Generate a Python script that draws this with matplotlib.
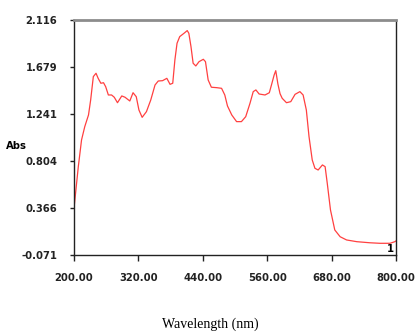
import matplotlib
matplotlib.use("Agg")
import matplotlib.pyplot as plt

# absorbance spectrum
wavelength = [200, 208, 214, 220, 227, 231, 236, 241, 245, 250, 255, 259, 264, 270,
              275, 281, 289, 295, 304, 310, 316, 321, 327, 335, 343, 351, 357, 365,
              373, 379, 384, 388, 392, 397, 405, 411, 414, 418, 422, 427, 433, 441,
              445, 450, 456, 466, 475, 481, 486, 494, 503, 512, 520, 528, 534, 539,
              545, 556, 564, 568, 573, 576, 580, 584, 588, 596, 604, 612, 621, 627,
              633, 638, 644, 649, 655, 663, 668, 672, 678, 686, 696, 708, 727, 751,
              770, 789, 798, 800]
absorbance = [0.364, 0.751, 0.999, 1.123, 1.232, 1.371, 1.589, 1.620, 1.573, 1.527,
              1.532, 1.495, 1.418, 1.418, 1.397, 1.346, 1.409, 1.397, 1.362, 1.439,
              1.402, 1.278, 1.210, 1.263, 1.371, 1.511, 1.548, 1.551, 1.573, 1.517,
              1.527, 1.744, 1.899, 1.961, 1.992, 2.017, 1.992, 1.868, 1.713, 1.688,
              1.728, 1.750, 1.728, 1.558, 1.490, 1.486, 1.480, 1.418, 1.316, 1.232,
              1.170, 1.170, 1.216, 1.341, 1.449, 1.465, 1.427, 1.418, 1.439, 1.511,
              1.604, 1.644, 1.520, 1.430, 1.387, 1.346, 1.356, 1.424, 1.449, 1.418,
              1.278, 1.030, 0.813, 0.736, 0.720, 0.767, 0.751, 0.596, 0.348, 0.162,
              0.099, 0.069, 0.053, 0.043, 0.038, 0.038, 0.053, 0.060]

x_ticks = [200, 320, 440, 560, 680, 800]
y_ticks = [-0.071, 0.366, 0.804, 1.241, 1.679, 2.116]

narrow = ['DejaVu Sans']

fig = plt.figure(figsize=(4.17, 3.32), dpi=100)
ax = fig.add_axes([0.1775, 0.2319, 0.772, 0.708])

ax.plot(wavelength, absorbance, color='#ff4040', lw=0.9)

ax.set_xlim(200, 800)
ax.set_ylim(-0.071, 2.116)
ax.set_xticks(x_ticks)
ax.set_xticklabels([f"{v:.2f}" for v in x_ticks])
ax.set_yticks(y_ticks)
ax.set_yticklabels([f"{v:.3f}" for v in y_ticks])

for lab in ax.get_xticklabels() + ax.get_yticklabels():
    lab.set_family(narrow)
    lab.set_fontweight('bold')
    lab.set_fontstretch('condensed')
    lab.set_fontsize(8)

ax.tick_params(axis='x', direction='out', length=4, width=1, pad=9, colors='#222222')
ax.tick_params(axis='y', direction='out', length=3, width=1, pad=9, colors='#222222')

ax.spines['top'].set_color('#8c8c8c')
ax.spines['top'].set_linewidth(2)
for s in ['left', 'bottom', 'right']:
    ax.spines[s].set_color('#222222')
    ax.spines[s].set_linewidth(1)

ax.text(0.992, 0.005, '1', transform=ax.transAxes, ha='right', va='bottom',
        fontsize=8, family=narrow, fontweight='bold', fontstretch='condensed')

fig.text(0.04, 0.56, 'Abs', ha='center', va='center', fontsize=8,
         family=narrow, fontweight='bold', fontstretch='condensed')
fig.text(0.505, 0.004, 'Wavelength (nm)', ha='center', va='bottom', fontsize=10,
         family=['Liberation Serif', 'DejaVu Serif'])

fig.savefig('out.png', dpi=100)
